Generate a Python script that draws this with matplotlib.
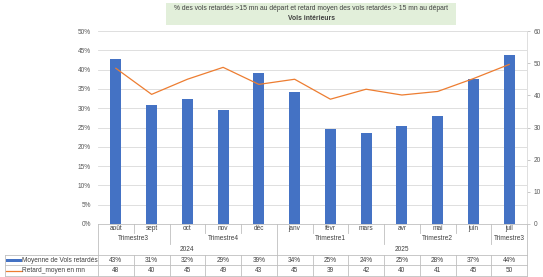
import matplotlib
matplotlib.use("Agg")
import matplotlib.pyplot as plt
import matplotlib.transforms as mtransforms
from matplotlib.patches import Rectangle

# data
months = ['août', 'sept', 'oct', 'nov', 'déc', 'janv', 'févr', 'mars', 'avr', 'mai', 'juin', 'juil']
quarters = [('Trimestre3', 0, 1), ('Trimestre4', 2, 4), ('Trimestre1', 5, 7),
            ('Trimestre2', 8, 10), ('Trimestre3', 11, 11)]
years = [('2024', 0, 4), ('2025', 5, 11)]
pct_delayed = [42.7, 30.8, 32.5, 29.5, 39.2, 34.1, 24.5, 23.7, 25.3, 28.0, 37.5, 43.9]
mean_delay = [48.4, 40.3, 45.0, 48.7, 43.4, 45.0, 38.8, 41.9, 40.1, 41.2, 45.2, 49.6]
pct_labels = ['43%', '31%', '32%', '29%', '39%', '34%', '25%', '24%', '25%', '28%', '37%', '44%']
delay_labels = ['48', '40', '45', '49', '43', '45', '39', '42', '40', '41', '45', '50']

W, H = 543, 277
BLUE = '#4472c4'
ORANGE = '#ed7d31'
GRID = '#d9d9d9'
BORDER = '#bfbfbf'
TXT = '#404040'
FONT = 'Liberation Sans'
FS = 4.7

plt.rcParams['font.family'] = [FONT, 'DejaVu Sans']

fig = plt.figure(figsize=(W / 100, H / 100), dpi=100)
left, right, top, bottom = 98, 527, 31, 224
ax = fig.add_axes([left / W, 1 - bottom / H, (right - left) / W, (bottom - top) / H])

x = list(range(len(months)))
ax.bar(x, pct_delayed, width=0.31, color=BLUE, zorder=3)
ax.set_xlim(-0.5, len(months) - 0.5)
ax.set_ylim(0, 50)
ax.set_yticks(range(0, 51, 5))
ax.set_yticklabels([f'{v}%' for v in range(0, 51, 5)])
ax.grid(axis='y', color=GRID, linewidth=0.6, zorder=0)
ax.set_xticks([])
for s in ['top', 'right', 'left']:
    ax.spines[s].set_visible(False)
ax.spines['bottom'].set_color(BORDER)
ax.spines['bottom'].set_linewidth(0.6)
ax.tick_params(axis='y', length=0, labelsize=FS, labelcolor='#595959', pad=5)

ax2 = ax.twinx()
ax2.plot(x, mean_delay, color=ORANGE, linewidth=0.9, zorder=4)
ax2.set_ylim(0, 60)
ax2.set_yticks(range(0, 61, 10))
for s in ['top', 'left', 'bottom']:
    ax2.spines[s].set_visible(False)
ax2.spines['right'].set_color(GRID)
ax2.spines['right'].set_linewidth(0.6)
ax2.tick_params(axis='y', length=2, width=0.6, color=BORDER, labelsize=FS,
                labelcolor='#595959', pad=3)

# title box
fig.patches.append(Rectangle((166 / W, 1 - 25 / H), 290 / W, 22 / H,
                             transform=fig.transFigure, facecolor='#e2efda',
                             edgecolor='none', zorder=0))
fig.text(311 / W, 1 - 9 / H, '% des vols retardés >15 mn au départ et retard moyen des vols retardés > 15 mn au départ',
         ha='center', va='center', fontsize=4.9, color=TXT)
fig.text(311 / W, 1 - 18 / H, 'Vols intérieurs', ha='center', va='center',
         fontsize=4.9, color=TXT, fontweight='bold')

# data table below the plot (x in data units, y in pixels from top)
tr = mtransforms.blended_transform_factory(ax.transData, fig.transFigure)


def fy(p):
    return 1 - p / H


def vline(xv, y0, y1):
    fig.add_artist(plt.Line2D([xv, xv], [fy(y0), fy(y1)], transform=tr,
                              color=BORDER, linewidth=0.6))


def hline(x0, x1, yv):
    fig.add_artist(plt.Line2D([x0, x1], [fy(yv), fy(yv)], transform=tr,
                              color=BORDER, linewidth=0.6))


y_month, y_quarter, y_year, y_row1, y_row2, y_end = 224, 233, 244, 255, 265, 276
x_leg = -0.5 - (left - 5) / ((right - left) / 12)

for i, m in enumerate(months):
    fig.text(i, fy(228.5), m, transform=tr, ha='center', va='center', fontsize=FS, color=TXT)

for name, a, b in quarters:
    fig.text((a + b) / 2, fy(239), name, transform=tr, ha='center', va='center',
             fontsize=FS, color=TXT)

for name, a, b in years:
    fig.text((a + b) / 2, fy(249.5), name, transform=tr, ha='center', va='center',
             fontsize=FS, color=TXT)

# header separators
quarter_bounds = {q[1] - 0.5 for q in quarters}
year_bounds = {yr[1] - 0.5 for yr in years}
for i in range(len(months) + 1):
    xb = i - 0.5
    if xb in year_bounds or i == len(months):
        vline(xb, y_month, y_row1)
    elif xb in quarter_bounds:
        vline(xb, y_month, y_year)
    else:
        vline(xb, y_month, y_quarter)

# value rows
for yv in (y_row1, y_row2, y_end):
    hline(x_leg, len(months) - 0.5, yv)
for i in range(len(months) + 1):
    vline(i - 0.5, y_row1, y_end)
vline(x_leg, y_row1, y_end)

for i in x:
    fig.text(i, fy(260), pct_labels[i], transform=tr, ha='center', va='center',
             fontsize=FS, color=TXT)
    fig.text(i, fy(270.5), delay_labels[i], transform=tr, ha='center', va='center',
             fontsize=FS, color=TXT)

# legend keys
fig.patches.append(Rectangle((6 / W, fy(262)), 16 / W, 3 / H, transform=fig.transFigure,
                             facecolor=BLUE, edgecolor='none'))
fig.add_artist(plt.Line2D([6 / W, 22 / W], [fy(270.5), fy(270.5)], color=ORANGE, linewidth=0.9))
fig.text(22 / W, fy(260), 'Moyenne de Vols retardés', ha='left', va='center', fontsize=FS, color=TXT)
fig.text(22 / W, fy(270.5), 'Retard_moyen en mn', ha='left', va='center', fontsize=FS, color=TXT)

fig.savefig('out.png', dpi=100)
